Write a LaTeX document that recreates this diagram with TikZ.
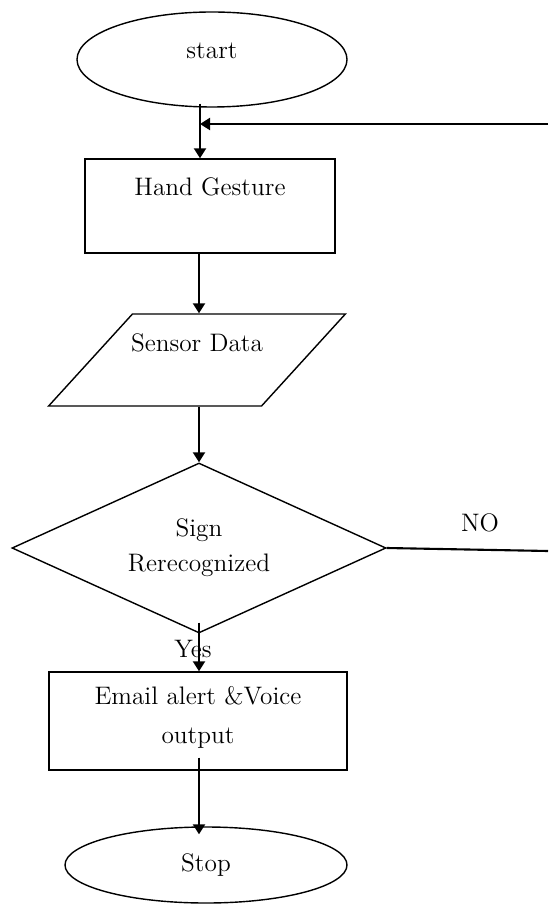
\documentclass[tikz,border=0pt]{standalone}
\usepackage{tikz}
\usetikzlibrary{shapes.geometric, arrows.meta, positioning}

\begin{document}
\begin{tikzpicture}[
        font=\fontsize{14.4}{20}\selectfont,
        terminal/.style={
          draw,
          ellipse,
          line width=0.8pt,
          minimum width=5.4cm,
          minimum height=1.9cm
        },
        process/.style={
          draw,
          rectangle,
          line width=0.8pt
        },
        io/.style={
          draw,
          trapezium,
          trapezium left angle=57,
          trapezium right angle=123,
          trapezium stretches=true,
          line width=0.8pt,
          minimum width=5.94cm,
          minimum height=1.84cm
        },
        decision/.style={
          draw,
          diamond,
          line width=0.8pt,
          inner sep=0pt,
          minimum width=7.48cm,
          minimum height=3.4cm
        },
        txt/.style={align=center, inner sep=0pt},
        arrow/.style={-{Triangle[length=0.2cm, width=0.24cm]}, line width=1.2pt},
        line/.style={line width=1.2pt}
      ]

      \useasboundingbox (0,0) rectangle (10.96,-18.08);

      % Main shapes
      \node[terminal] (start) at (4.24,-1.19) {};
      \node[process, minimum width=5cm, minimum height=1.88cm] (hand) at (4.2,-4.12) {};
      \node[io] (sensor) at (3.94,-7.2) {};
      \node[decision] (sign) at (3.98,-10.96) {};
      \node[process, minimum width=5.96cm, minimum height=1.96cm] (alert) at (3.96,-14.42) {};
      \node[terminal, minimum width=5.64cm, minimum height=1.52cm] (stop) at (4.12,-17.3) {};

      % Texts
      \node[txt] (starttext) at ([yshift=0.18cm]start.center) {start};
      \node[txt] (handtext) at ([yshift=0.38cm]hand.center) {Hand Gesture};
      \node[txt] (sensortext) at ([yshift=0.34cm]sensor.center) {Sensor Data};
      \node[txt] (signtext) at (sign.center) {Sign\\Rerecognized};
      \node[txt] (alerttext) at ([yshift=0.07cm]alert.center) {Email alert \&Voice\\[2pt]output};
      \node[txt] (stoptext) at (stop.center) {Stop};
      \node[txt] (yes) at (3.86,-12.98) {Yes};
      \node[txt] (no) at (9.6,-10.46) {NO};

      % Free ends at the right border
      \coordinate (back) at (10.96,-2.48);
      \coordinate (join) at (4.0,-2.48);
      \coordinate (noend) at (10.96,-11.02);

      % Connections
      \draw[arrow] ([yshift=0.08cm]start.south -| join) -- (hand.north -| join);
      \draw[arrow] (back) -- (join);
      \draw[arrow] (hand.south -| sign.north) -- (sign.north |- sensor.north);
      \draw[arrow] (sign.north |- sensor.south) -- (sign.north);
      \draw[line] (sign.east) -- (noend);
      \draw[arrow] ([yshift=0.22cm]sign.south) -- (sign.south |- alert.north);
      \draw[arrow] ([yshift=0.26cm]alert.south -| sign.south) -- ([yshift=-0.16cm]stop.north -| sign.south);

    \end{tikzpicture}
\end{document}
